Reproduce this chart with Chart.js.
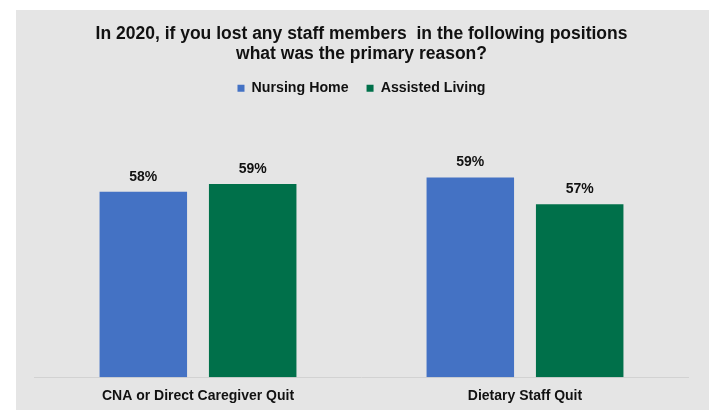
<!DOCTYPE html>
<html>
<head>
<meta charset="utf-8">
<script src="https://cdn.jsdelivr.net/npm/chart.js@4"></script>
<style>
  html, body { margin: 0; padding: 0; background: #ffffff; }
  #panel { position: absolute; left: 16px; top: 10px; width: 693px; height: 400px; background: #e5e5e5; }
</style>
</head>
<body>
<div id="panel"><canvas id="c"></canvas></div>
<script>
const categories = ['CNA or Direct Caregiver Quit', 'Dietary Staff Quit'];
const seriesNames = ['Nursing Home', 'Assisted Living'];
const nursingHome = [58.0, 62.4];
const assistedLiving = [60.4, 54.1];
const nursingHomeLabels = ['58%', '59%'];
const assistedLivingLabels = ['59%', '57%'];
const titleLines = ['In 2020, if you lost any staff members  in the following positions', 'what was the primary reason?'];

const FONT = "'Liberation Sans', Arial, sans-serif";
const valueLabels = [nursingHomeLabels, assistedLivingLabels];

const barLabelPlugin = {
  id: 'barLabels',
  afterDatasetsDraw(chart) {
    const ctx = chart.ctx;
    ctx.save();
    ctx.font = 'bold 14px ' + FONT;
    ctx.fillStyle = '#111111';
    ctx.textAlign = 'center';
    ctx.textBaseline = 'middle';
    chart.data.datasets.forEach((ds, di) => {
      const meta = chart.getDatasetMeta(di);
      meta.data.forEach((bar, i) => {
        ctx.fillText(valueLabels[di][i], bar.x, bar.y - 15);
      });
    });
    ctx.restore();
  }
};

new Chart(document.getElementById('c'), {
  type: 'bar',
  data: {
    labels: categories,
    datasets: [
      { label: seriesNames[0], data: nursingHome, backgroundColor: '#4472c4' },
      { label: seriesNames[1], data: assistedLiving, backgroundColor: '#00704a' }
    ]
  },
  options: {
    responsive: true,
    maintainAspectRatio: false,
    animation: false,
    layout: { padding: { left: 18.5, right: 20.5, top: 0, bottom: -4.9 } },
    datasets: { bar: { categoryPercentage: 0.669, barPercentage: 0.8 } },
    scales: {
      x: {
        grid: { display: false, drawTicks: false },
        border: { display: true, color: '#d2d2d2', width: 1 },
        ticks: { color: '#111111', padding: 10.4, font: { family: FONT, size: 14, weight: 'bold' } }
      },
      y: { display: false, min: 0, max: 85.0 }
    },
    plugins: {
      title: {
        display: true,
        text: titleLines,
        color: '#111111',
        font: { family: FONT, size: 17.5, weight: 'bold', lineHeight: 1.143 },
        padding: { top: 14, bottom: -0.9 }
      },
      legend: {
        display: true,
        labels: {
          boxWidth: 7, boxHeight: 7, padding: 18,
          color: '#111111',
          font: { family: FONT, size: 14.2, weight: 'bold' }
        }
      },
      tooltip: { enabled: false }
    }
  },
  plugins: [barLabelPlugin]
});
</script>
</body>
</html>
